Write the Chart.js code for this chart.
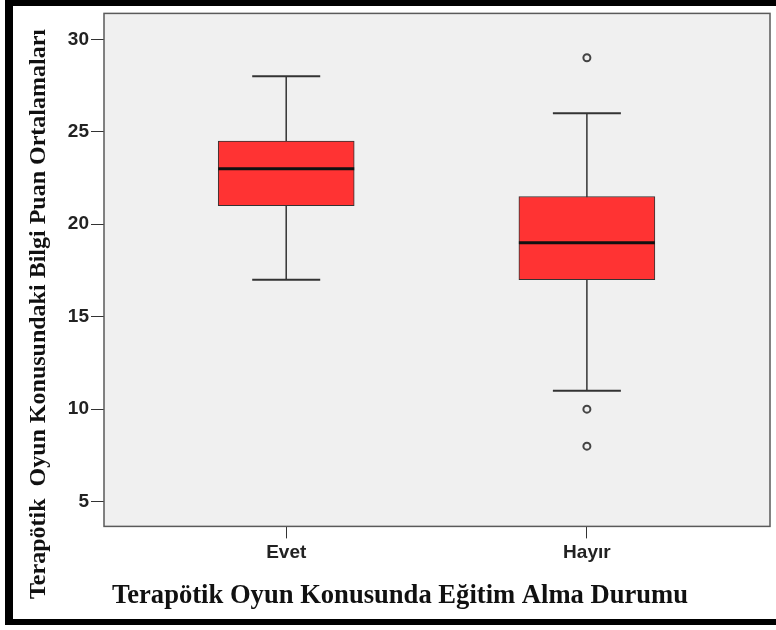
<!DOCTYPE html>
<html>
<head>
<meta charset="utf-8">
<script src="https://cdn.jsdelivr.net/npm/chart.js@4.4.0/dist/chart.umd.min.js"></script>
<style>
  body { margin: 0; background: #fff; }
  #wrap { position: relative; width: 776px; height: 630px; overflow: hidden; }
  #frame {
    position: absolute; left: 5px; top: 0; width: 800px; height: 625px;
    box-sizing: border-box; pointer-events: none;
    border-top: 6px solid #000; border-left: 8px solid #000; border-bottom: 6px solid #000;
  }
</style>
</head>
<body>
<div id="wrap">
  <canvas id="chart1" width="776" height="630"></canvas>
  <div id="frame"></div>
</div>
<script>
// gruplar ve kutu grafiği değerleri
const groups = ["Evet", "Hayır"];
const q1 = [21, 17];
const median = [23, 19];
const q3 = [24.5, 21.5];
const whiskerLow = [17, 11];
const whiskerHigh = [28, 26];
const outliers = [[], [29, 10, 8]];
const yTicks = [5, 10, 15, 20, 25, 30];

const yTitle = "Terapötik  Oyun Konusundaki Bilgi Puan Ortalamaları";
const xTitle = "Terapötik Oyun Konusunda Eğitim Alma Durumu";

function line(ctx, x1, y1, x2, y2) {
    ctx.beginPath();
    ctx.moveTo(x1, y1);
    ctx.lineTo(x2, y2);
    ctx.stroke();
}

// bıyıklar, medyan çizgisi ve çerçeve
const boxPlugin = {
    id: 'boxWhiskers',
    beforeDraw(chart) {
        const ctx = chart.ctx, a = chart.chartArea;
        ctx.save();
        ctx.fillStyle = '#fff';
        ctx.fillRect(0, 0, chart.width, chart.height);
        ctx.fillStyle = '#f0f0f0';
        ctx.fillRect(a.left, a.top, a.right - a.left, a.bottom - a.top);
        ctx.restore();
    },
    beforeDatasetsDraw(chart) {
        const ctx = chart.ctx;
        const xs = chart.scales.x, ys = chart.scales.y;
        const boxes = chart.getDatasetMeta(0).data;
        ctx.save();
        ctx.strokeStyle = '#333';
        groups.forEach((g, i) => {
            const px = xs.getPixelForValue(i);
            const half = boxes[i].width / 4;
            const lo = ys.getPixelForValue(whiskerLow[i]);
            const hi = ys.getPixelForValue(whiskerHigh[i]);
            ctx.lineWidth = 1.5;
            line(ctx, px, lo, px, hi);
            ctx.lineWidth = 2;
            line(ctx, px - half, lo, px + half, lo);
            line(ctx, px - half, hi, px + half, hi);
        });
        ctx.restore();
    },
    afterDatasetsDraw(chart) {
        const ctx = chart.ctx, a = chart.chartArea;
        const xs = chart.scales.x, ys = chart.scales.y;
        const boxes = chart.getDatasetMeta(0).data;
        ctx.save();
        ctx.strokeStyle = '#111';
        ctx.lineWidth = 3;
        groups.forEach((g, i) => {
            const px = xs.getPixelForValue(i);
            const half = boxes[i].width / 2;
            const my = ys.getPixelForValue(median[i]);
            line(ctx, px - half, my, px + half, my);
        });
        ctx.strokeStyle = '#5a5a5a';
        ctx.lineWidth = 1.5;
        ctx.strokeRect(a.left, a.top, a.right - a.left, a.bottom - a.top);
        ctx.restore();
    }
};

const boxData = groups.map((g, i) => ({ x: i, y: [q1[i], q3[i]] }));
const outlierData = [];
outliers.forEach((list, i) => list.forEach(v => outlierData.push({ x: i, y: v })));

const tickFont = { family: "'Liberation Sans', Arial, sans-serif", size: 19, weight: 'bold' };
const titleFont = { family: "'Liberation Serif', 'Times New Roman', serif", weight: 'bold', lineHeight: 1 };

new Chart(document.getElementById('chart1'), {
    type: 'bar',
    data: {
        datasets: [{
            type: 'bar',
            data: boxData,
            backgroundColor: '#ff3333',
            borderColor: '#333',
            borderWidth: 1,
            borderSkipped: false,
            barThickness: 136
        }, {
            type: 'scatter',
            data: outlierData,
            pointStyle: 'circle',
            pointRadius: 3.5,
            pointBorderWidth: 2,
            pointBorderColor: '#444',
            pointBackgroundColor: '#f0f0f0'
        }]
    },
    options: {
        responsive: false,
        animation: false,
        devicePixelRatio: 1,
        layout: { padding: { left: 27, right: 3, top: 11, bottom: 13 } },
        plugins: {
            legend: { display: false },
            tooltip: { enabled: false },
            title: {
                display: true,
                position: 'left',
                text: yTitle,
                color: '#111',
                padding: 0,
                font: Object.assign({ size: 24 }, titleFont)
            },
            subtitle: {
                display: true,
                position: 'bottom',
                text: xTitle,
                color: '#111',
                padding: { top: 0, bottom: 8 },
                font: Object.assign({ size: 26.6 }, titleFont)
            }
        },
        scales: {
            x: {
                type: 'linear',
                min: -0.606,
                max: 1.609,
                offset: false,
                afterBuildTicks: (s) => { s.ticks = groups.map((g, i) => ({ value: i })); },
                afterFit: (s) => { s.height = 56; },
                ticks: {
                    callback: (v) => groups[v],
                    font: tickFont,
                    color: '#222',
                    padding: 3,
                    maxRotation: 0,
                    autoSkip: false
                },
                grid: { drawOnChartArea: false, offset: false, tickLength: 12, tickColor: '#333' },
                border: { display: false }
            },
            y: {
                min: 3.66,
                max: 31.4,
                afterBuildTicks: (s) => { s.ticks = yTicks.map(v => ({ value: v })); },
                afterFit: (s) => { s.width = 53; },
                ticks: { font: tickFont, color: '#222', padding: 2 },
                grid: { drawOnChartArea: false, tickLength: 13, tickColor: '#333' },
                border: { display: false }
            }
        }
    },
    plugins: [boxPlugin]
});
</script>
</body>
</html>
